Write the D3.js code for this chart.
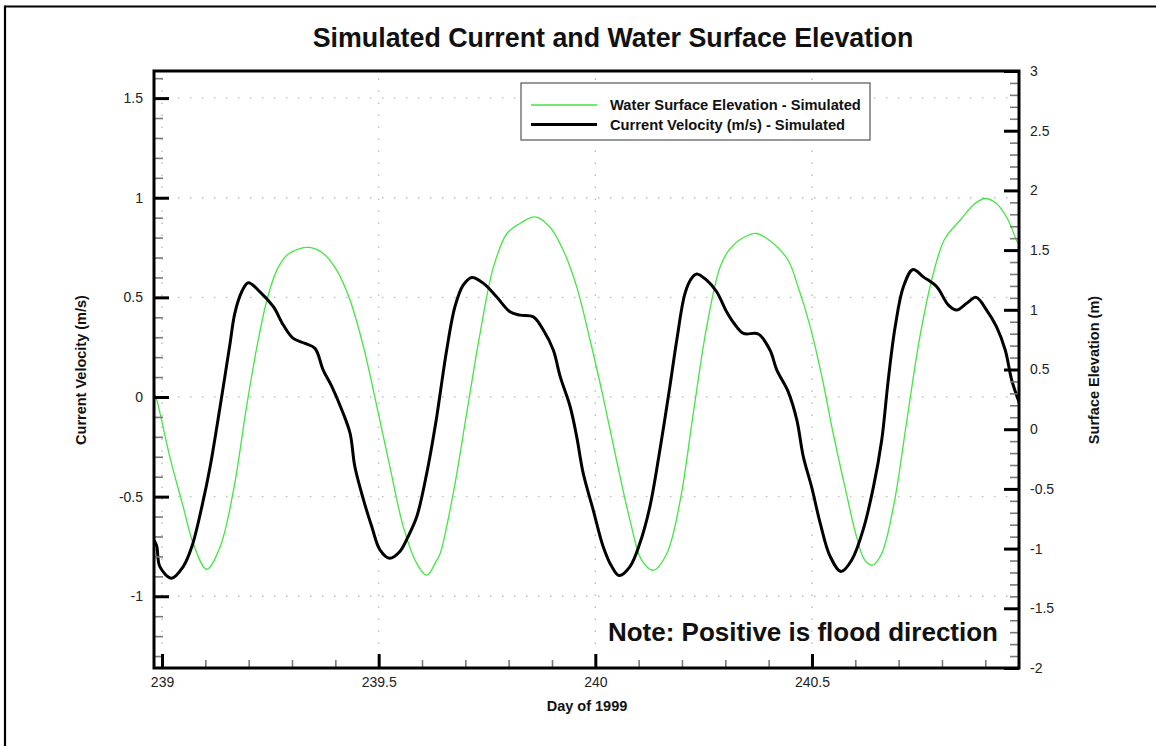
<!DOCTYPE html>
<html>
<head>
<meta charset="utf-8">
<script src="https://cdn.jsdelivr.net/npm/d3@7"></script>
<style>
  html, body { margin: 0; padding: 0; background: #fff; }
  svg { display: block; font-family: "Liberation Sans", Arial, sans-serif; }
</style>
</head>
<body>
<svg id="chart" width="1156" height="746"></svg>
<script>
// ---- Data ----
const velDays = [238.982, 238.988, 238.995, 239.022, 239.049, 239.069, 239.092, 239.111, 239.134, 239.157,
  239.168, 239.184, 239.199, 239.226, 239.257, 239.280, 239.303, 239.330, 239.353, 239.372,
  239.392, 239.415, 239.434, 239.445, 239.465, 239.484, 239.503, 239.525, 239.549, 239.568,
  239.588, 239.611, 239.634, 239.642, 239.657, 239.676, 239.695, 239.715, 239.742, 239.772,
  239.803, 239.826, 239.857, 239.880, 239.903, 239.919, 239.942, 239.957, 239.972, 239.995,
  240.018, 240.038, 240.055, 240.080, 240.103, 240.126, 240.149, 240.172, 240.188, 240.207,
  240.222, 240.234, 240.257, 240.280, 240.303, 240.320, 240.342, 240.376, 240.403, 240.419,
  240.445, 240.465, 240.480, 240.499, 240.519, 240.542, 240.567, 240.592, 240.618, 240.642,
  240.661, 240.676, 240.692, 240.711, 240.733, 240.757, 240.788, 240.815, 240.834, 240.857,
  240.879, 240.903, 240.926, 240.946, 240.961, 240.979];
const velValues = [-0.72, -0.75, -0.851, -0.909, -0.851, -0.75, -0.55, -0.35, -0.049, 0.269,
  0.42, 0.528, 0.573, 0.528, 0.453, 0.361, 0.294, 0.269, 0.244, 0.135,
  0.052, -0.065, -0.182, -0.349, -0.516, -0.65, -0.767, -0.809, -0.775, -0.70,
  -0.60, -0.382, -0.099, 0.019, 0.236, 0.453, 0.561, 0.60, 0.57, 0.503,
  0.428, 0.411, 0.402, 0.336, 0.236, 0.102, -0.049, -0.199, -0.382, -0.566,
  -0.75, -0.851, -0.896, -0.851, -0.733, -0.55, -0.266, 0.052, 0.286, 0.52,
  0.595, 0.617, 0.586, 0.528, 0.428, 0.37, 0.319, 0.316, 0.236, 0.135,
  0.027, -0.115, -0.299, -0.45, -0.633, -0.80, -0.876, -0.817, -0.667, -0.45,
  -0.216, 0.085, 0.352, 0.553, 0.64, 0.603, 0.553, 0.461, 0.436, 0.47,
  0.50, 0.436, 0.352, 0.236, 0.085, -0.032];

const elevDays = [238.982, 238.988, 239.018, 239.049, 239.072, 239.103, 239.134, 239.165, 239.195, 239.219,
  239.242, 239.265, 239.288, 239.318, 239.340, 239.372, 239.403, 239.434, 239.465, 239.496,
  239.526, 239.557, 239.588, 239.611, 239.634, 239.642, 239.672, 239.703, 239.734, 239.765,
  239.796, 239.826, 239.861, 239.895, 239.926, 239.957, 239.988, 240.018, 240.049, 240.080,
  240.107, 240.134, 240.165, 240.196, 240.226, 240.257, 240.288, 240.311, 240.338, 240.372,
  240.411, 240.445, 240.468, 240.496, 240.523, 240.549, 240.576, 240.603, 240.622, 240.640,
  240.661, 240.688, 240.719, 240.749, 240.780, 240.807, 240.842, 240.872, 240.899, 240.926,
  240.953, 240.972, 240.979];
const elevValues = [0.30, 0.243, -0.232, -0.651, -0.957, -1.173, -0.986, -0.511, 0.187, 0.689,
  1.080, 1.332, 1.457, 1.513, 1.522, 1.472, 1.332, 1.080, 0.689, 0.187,
  -0.316, -0.818, -1.125, -1.223, -1.097, -1.041, -0.539, 0.131, 0.802, 1.359,
  1.639, 1.723, 1.778, 1.694, 1.499, 1.192, 0.745, 0.271, -0.260, -0.762,
  -1.097, -1.181, -1.041, -0.595, 0.131, 0.857, 1.359, 1.513, 1.597, 1.639,
  1.555, 1.415, 1.192, 0.857, 0.438, -0.036, -0.483, -0.902, -1.097, -1.139,
  -1.041, -0.651, 0.075, 0.773, 1.304, 1.597, 1.750, 1.876, 1.932, 1.890,
  1.750, 1.583, 1.54];

const xMajorTicks = [239, 239.5, 240, 240.5];
const leftMajorTicks = [-1, -0.5, 0, 0.5, 1, 1.5];
const rightMajorTicks = [-2, -1.5, -1, -0.5, 0, 0.5, 1, 1.5, 2, 2.5, 3];

const titleText = "Simulated Current and Water Surface Elevation";
const xTitle = "Day of 1999";
const leftTitle = "Current Velocity (m/s)";
const rightTitle = "Surface Elevation (m)";
const legendLabels = ["Water Surface Elevation - Simulated", "Current Velocity (m/s) - Simulated"];
const noteText = "Note: Positive is flood direction";

// ---- Layout ----
const plot = { left: 154, right: 1019, top: 71, bottom: 668 };
const greenColor = "#44e544";

const svg = d3.select("#chart");

const x = d3.scaleLinear().domain([238.9815, 240.9778]).range([plot.left, plot.right]);
const yL = d3.scaleLinear().domain([-1.36, 1.636]).range([plot.bottom, plot.top]);
const yR = d3.scaleLinear().domain([-2, 3]).range([plot.bottom, plot.top]);

// minor tick generators
function minorTicks(lo, hi, step, majors) {
  const out = [];
  for (let i = Math.ceil(lo / step - 1e-9); i * step <= hi + 1e-9; i++) {
    const v = +(i * step).toFixed(4);
    if (!majors.some(m => Math.abs(m - v) < 1e-6)) out.push(v);
  }
  return out;
}
const xMinor = minorTicks(x.domain()[0], x.domain()[1], 0.1, xMajorTicks);
const lMinor = minorTicks(yL.domain()[0], yL.domain()[1], 0.1, leftMajorTicks);
const rMinor = minorTicks(-2, 3, 0.1, rightMajorTicks);

// page border (top and left only)
svg.append("line").attr("x1", 5).attr("x2", 1156).attr("y1", 6.5).attr("y2", 6.5)
  .attr("stroke", "#000").attr("stroke-width", 2.2);
svg.append("line").attr("x1", 5).attr("x2", 5).attr("y1", 5.5).attr("y2", 746)
  .attr("stroke", "#000").attr("stroke-width", 2.2);

// title
svg.append("text").attr("x", 613).attr("y", 47).attr("text-anchor", "middle")
  .attr("font-size", 26.8).attr("font-weight", "bold").attr("fill", "#111").text(titleText);

// grid
const grid = svg.append("g").attr("stroke", "#bdbdbd").attr("stroke-width", 1.4)
  .attr("stroke-dasharray", "1.5,10.5");
grid.selectAll(".vg").data(xMajorTicks).join("line")
  .attr("x1", d => x(d)).attr("x2", d => x(d)).attr("y1", plot.bottom).attr("y2", plot.top);
grid.selectAll(".hg").data(leftMajorTicks).join("line")
  .attr("x1", plot.left).attr("x2", plot.right).attr("y1", d => yL(d)).attr("y2", d => yL(d));

// clip
svg.append("clipPath").attr("id", "clip").append("rect")
  .attr("x", plot.left).attr("y", plot.top)
  .attr("width", plot.right - plot.left).attr("height", plot.bottom - plot.top);

const curve = d3.curveCatmullRom.alpha(0.5);
const elevLine = d3.line().x((d, i) => x(elevDays[i])).y(d => yR(d)).curve(curve);
const velLine = d3.line().x((d, i) => x(velDays[i])).y(d => yL(d)).curve(curve);

const lines = svg.append("g").attr("clip-path", "url(#clip)");
lines.append("path").attr("d", elevLine(elevValues)).attr("fill", "none")
  .attr("stroke", greenColor).attr("stroke-width", 1.3);
lines.append("path").attr("d", velLine(velValues)).attr("fill", "none")
  .attr("stroke", "#000").attr("stroke-width", 3).attr("stroke-linejoin", "round");

// axes: minor ticks (gray, inward)
function styleMinor(g) {
  g.select(".domain").remove();
  g.selectAll(".tick line").attr("stroke", "#7a7a7a").attr("stroke-width", 1.6);
  g.selectAll(".tick text").remove();
}
svg.append("g").attr("transform", `translate(0,${plot.bottom})`)
  .call(d3.axisBottom(x).tickValues(xMinor).tickSize(-8)).call(styleMinor);
svg.append("g").attr("transform", `translate(${plot.left},0)`)
  .call(d3.axisLeft(yL).tickValues(lMinor).tickSize(-9)).call(styleMinor);
svg.append("g").attr("transform", `translate(${plot.right},0)`)
  .call(d3.axisRight(yR).tickValues(rMinor).tickSize(-9)).call(styleMinor);

// axes: major ticks + labels
function styleMajor(g) {
  g.select(".domain").remove();
  g.selectAll(".tick line").attr("stroke", "#000").attr("stroke-width", 3);
  g.selectAll(".tick text").attr("font-size", 14).attr("fill", "#222")
    .attr("font-family", "'Liberation Sans', Arial, sans-serif");
}
const fmt = d => String(d);
svg.append("g").attr("transform", `translate(0,${plot.bottom})`)
  .call(d3.axisBottom(x).tickValues(xMajorTicks).tickSize(-14).tickPadding(9).tickFormat(fmt))
  .call(styleMajor);
svg.append("g").attr("transform", `translate(${plot.left},0)`)
  .call(d3.axisLeft(yL).tickValues(leftMajorTicks).tickSize(-15).tickPadding(11).tickFormat(fmt))
  .call(styleMajor);
svg.append("g").attr("transform", `translate(${plot.right},0)`)
  .call(d3.axisRight(yR).tickValues(rightMajorTicks).tickSize(-15).tickPadding(11).tickFormat(fmt))
  .call(styleMajor);

// frame
svg.append("rect").attr("x", plot.left).attr("y", plot.top)
  .attr("width", plot.right - plot.left).attr("height", plot.bottom - plot.top)
  .attr("fill", "none").attr("stroke", "#000").attr("stroke-width", 3);

// axis titles
svg.append("text").attr("x", 587).attr("y", 711).attr("text-anchor", "middle")
  .attr("font-size", 14.5).attr("font-weight", "bold").attr("fill", "#111").text(xTitle);
svg.append("text").attr("transform", `translate(86,370) rotate(-90)`).attr("text-anchor", "middle")
  .attr("font-size", 14.5).attr("font-weight", "bold").attr("fill", "#111").text(leftTitle);
svg.append("text").attr("transform", `translate(1099,370) rotate(-90)`).attr("text-anchor", "middle")
  .attr("font-size", 14.5).attr("font-weight", "bold").attr("fill", "#111").text(rightTitle);

// legend
const lg = svg.append("g");
lg.append("rect").attr("x", 521).attr("y", 83).attr("width", 349).attr("height", 57)
  .attr("fill", "#fff").attr("stroke", "#555").attr("stroke-width", 1.2);
const legendColors = [greenColor, "#000"];
const legendWidths = [1.3, 3];
legendLabels.forEach((lab, i) => {
  const yy = 105 + i * 19.5;
  lg.append("line").attr("x1", 531).attr("x2", 597).attr("y1", yy).attr("y2", yy)
    .attr("stroke", legendColors[i]).attr("stroke-width", legendWidths[i]);
  lg.append("text").attr("x", 610).attr("y", yy + 5).attr("font-size", 14.7)
    .attr("font-weight", "bold").attr("fill", "#111").text(lab);
});

// note
svg.append("text").attr("x", 998).attr("y", 641).attr("text-anchor", "end")
  .attr("font-size", 26).attr("font-weight", "bold").attr("fill", "#111").text(noteText);
</script>
</body>
</html>
